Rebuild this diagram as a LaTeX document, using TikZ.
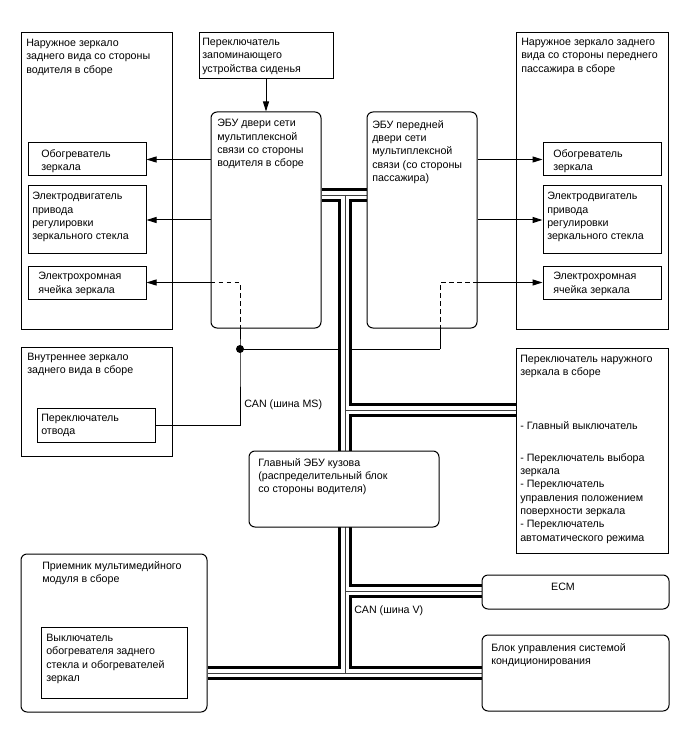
\documentclass[tikz,border=0pt]{standalone}
\usepackage{fontspec}
\setmainfont{Liberation Sans}
\usetikzlibrary{arrows.meta, fit, backgrounds}

\tikzset{
  box/.style={draw, line width=0.75pt, fill=white, inner sep=0pt},
  rbox/.style={box, rounded corners=4.5pt},
  txt/.style={anchor=north west, align=left, inner sep=0pt, font=\fontsize{8}{10}\selectfont},
  sig/.style={line width=0.75pt, -{Triangle[length=7.5pt,width=4.5pt]}},
  wire/.style={line width=0.75pt},
  dashwire/.style={line width=0.75pt, dash pattern=on 3.5pt off 2.5pt},
  busout/.style={line width=10.5pt, black},
  busmid/.style={line width=5.6pt, white},
  buscore/.style={line width=0.7pt, black!75},
  jdot/.style={circle, fill, inner sep=0pt, minimum size=6pt},
}

\begin{document}
\begin{tikzpicture}[x=0.75pt, y=-0.75pt]
        \useasboundingbox (0,0) rectangle (688,755);
%       driver side mirror
        \node[box, fit={(21,33) (172,329)}] (drvMirror) {};
        \node[txt] (drvMirrorT) at (26,39) {Наружное зеркало\\заднего вида со стороны\\водителя в сборе};
        \node[box, fit={(28,143) (146,176)}] (heatL) {};
        \node[txt] (heatLT) at (41,149) {Обогреватель\\зеркала};
        \node[box, fit={(28,186) (146,254)}] (motorL) {};
        \node[txt] (motorLT) at (32,192) {Электродвигатель\\привода\\регулировки\\зеркального стекла};
        \node[box, fit={(28,266) (146,299)}] (ecL) {};
        \node[txt] (ecLT) at (38,272) {Электрохромная\\ячейка зеркала};
%       seat memory switch and door ECUs
        \node[box, fit={(199,33) (333,79)}] (seatSw) {};
        \node[txt] (seatSwT) at (202,38) {Переключатель\\запоминающего\\устройства сиденья};
        \node[rbox, fit={(211,112) (321,328)}] (ecuDrv) {};
        \node[txt] (ecuDrvT) at (217,119) {ЭБУ двери сети\\мультиплексной\\связи со стороны\\водителя в сборе};
        \node[rbox, fit={(367,112) (477,328)}] (ecuPas) {};
        \node[txt] (ecuPasT) at (372,120) {ЭБУ передней\\двери сети\\мультиплексной\\связи (со стороны\\пассажира)};
%       passenger side mirror
        \node[box, fit={(516,33) (668,329)}] (pasMirror) {};
        \node[txt] (pasMirrorT) at (521,38) {Наружное зеркало заднего\\вида со стороны переднего\\пассажира в сборе};
        \node[box, fit={(543,143) (661,176)}] (heatR) {};
        \node[txt] (heatRT) at (553,149) {Обогреватель\\зеркала};
        \node[box, fit={(543,186) (661,254)}] (motorR) {};
        \node[txt] (motorRT) at (547,192) {Электродвигатель\\привода\\регулировки\\зеркального стекла};
        \node[box, fit={(543,266) (661,299)}] (ecR) {};
        \node[txt] (ecRT) at (553,272) {Электрохромная\\ячейка зеркала};
%       inner mirror
        \node[box, fit={(21,347) (172,456)}] (inMirror) {};
        \node[txt] (inMirrorT) at (27,353) {Внутреннее зеркало\\заднего вида в сборе};
        \node[box, fit={(37,408) (155,442)}] (dipSw) {};
        \node[txt] (dipSwT) at (41,414) {Переключатель\\отвода};
%       outer mirror switch
        \node[box, fit={(516,348) (668,553)}] (mirSw) {};
        \node[txt] (mirSwT) at (520,355) {Переключатель наружного\\зеркала в сборе\\[30pt]
            - Главный выключатель\\[14pt]
            - Переключатель выбора\\зеркала\\- Переключатель\\управления положением\\поверхности зеркала\\- Переключатель\\автоматического режима};
%       body ECU, multimedia, ECM, A/C
        \node[rbox, fit={(249,451) (439,527)}] (bcm) {};
        \node[txt] (bcmT) at (258,458) {Главный ЭБУ кузова\\(распределительный блок\\со стороны водителя)};
        \node[rbox, fit={(21,554) (207,712)}] (media) {};
        \node[txt] (mediaT) at (42,561) {Приемник мультимедийного\\модуля в сборе};
        \node[box, fit={(41,627) (187,698)}] (defSw) {};
        \node[txt] (defSwT) at (46,634) {Выключатель\\обогревателя заднего\\стекла и обогревателей\\зеркал};
        \node[rbox, fit={(482,575) (669,609)}] (ecm) {};
        \node[txt, anchor=center] (ecmT) at (563,587) {ECM};
        \node[rbox, fit={(482,635) (669,711)}] (ac) {};
        \node[txt] (acT) at (491,643) {Блок управления системой\\кондиционирования};
%       bus labels
        \node[txt, anchor=west] (canMS) at (244,405) {CAN (шина MS)};
        \node[txt, anchor=west] (canV) at (354,611) {CAN (шина V)};
%
        \coordinate (canJ) at (240,349);
        \coordinate (canR) at (440,349);
        \coordinate (busT) at (345,195);
        \coordinate (busS) at (345,410);
        \coordinate (busE) at (345,591);
        \coordinate (busB) at (345,673);
%       signal lines
        \draw[sig] (seatSw.south) -- (seatSw.south |- ecuDrv.north);
        \draw[sig] (ecuDrv.west |- heatL) -- (heatL.east);
        \draw[sig] (ecuDrv.west |- motorL) -- (motorL.east);
        \draw[sig] (ecuDrv.west |- ecL) -- (ecL.east);
        \draw[sig] (ecuPas.east |- heatR) -- (heatR.west);
        \draw[sig] (ecuPas.east |- motorR) -- (motorR.west);
        \draw[sig] (ecuPas.east |- ecR) -- (ecR.west);
        \draw[dashwire] (ecuDrv.west |- ecL) -| (canJ |- ecuDrv.south);
        \draw[dashwire] (ecuPas.east |- ecR) -| (canR |- ecuPas.south);
        \draw[wire] (canJ |- ecuDrv.south) -- (canJ) -- (canJ |- dipSw) -- (dipSw.east);
        \draw[wire] (canR |- ecuPas.south) -- (canR);
        \node[jdot] (canDot) at (canJ) {};
%       CAN V bus, drawn behind the boxes
        \begin{scope}[on background layer]
            \draw[wire] (canJ) -- (canR);
            \foreach \layer in {busout, busmid, buscore}
                \draw[\layer] (ecuDrv.east |- busT) -- (ecuPas.west |- busT)
                    (busT) -- (busB)
                    (busS) -- (mirSw.west |- busS)
                    (busE) -- (ecm.west |- busE)
                    (media.east |- busB) -- (ac.west |- busB);
        \end{scope}
\end{tikzpicture}
\end{document}
